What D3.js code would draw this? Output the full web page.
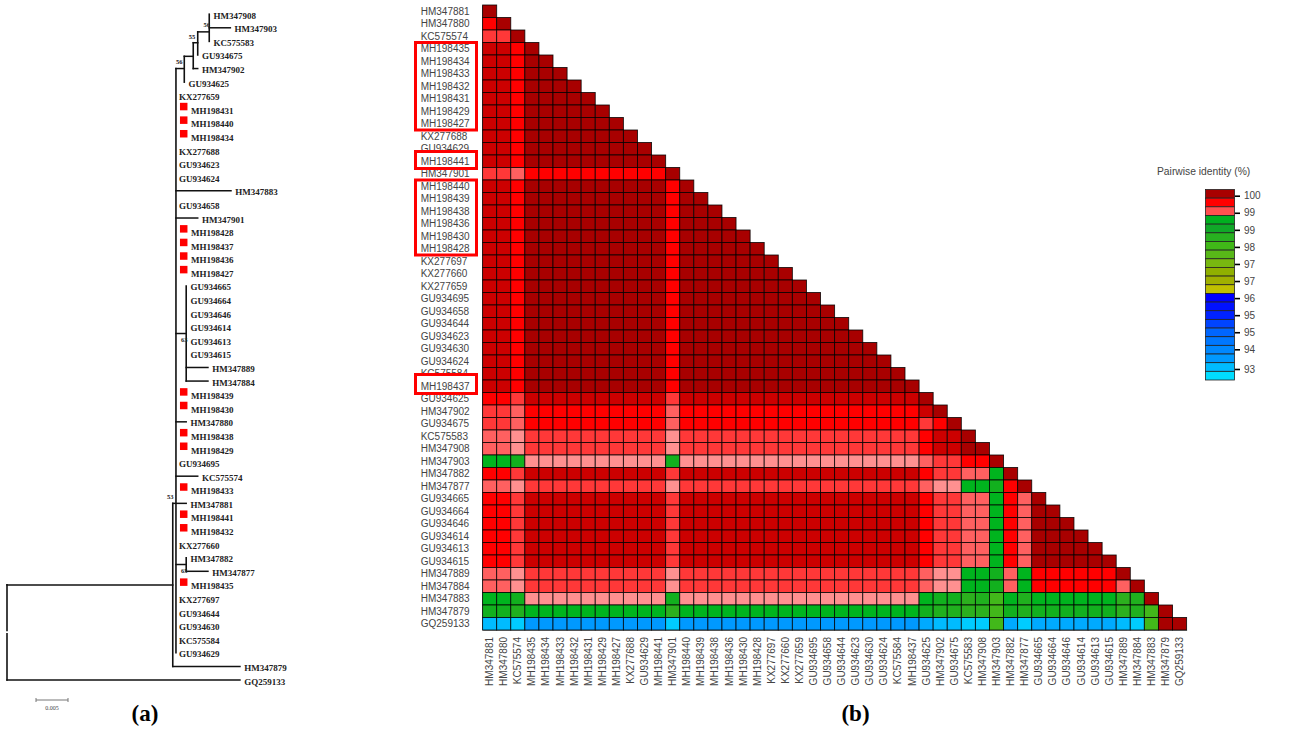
<!DOCTYPE html>
<html>
<head>
<meta charset="utf-8">
<script src="https://cdnjs.cloudflare.com/ajax/libs/d3/7.8.5/d3.min.js"></script>
<style>
html,body{margin:0;padding:0;background:#fff;overflow:hidden}
svg{display:block}
</style>
</head>
<body>
<svg id="chart" width="1309" height="732"></svg>
<script>
// ---------- panel (b) data ----------
const taxa = ["HM347881","HM347880","KC575574","MH198435","MH198434","MH198433","MH198432","MH198431","MH198429","MH198427","KX277688","GU934629","MH198441","HM347901","MH198440","MH198439","MH198438","MH198436","MH198430","MH198428","KX277697","KX277660","KX277659","GU934695","GU934658","GU934644","GU934623","GU934630","GU934624","KC575584","MH198437","GU934625","HM347902","GU934675","KC575583","HM347908","HM347903","HM347882","HM347877","GU934665","GU934664","GU934646","GU934614","GU934613","GU934615","HM347889","HM347884","HM347883","HM347879","GQ259133"];
const levelCodes = ["A","B","C","D","E","F","G","H","I","J","K","L","M","N","O"];
const levelIdentity = [100,99.8,99.6,99.4,99.2,99,98.8,98.6,98.4,98.2,97.9,93.6,93.4,93.2,93];
const levelColors = ["#a80000","#cc0000","#ff0000","#ff3838","#ff6060","#ff9090","#00b41e","#12b01e","#20b01e","#2cb01e","#42b81a","#0099ff","#00aaff","#00bbff","#00ccff"];
const identityRows = [
"A",
"CA",
"DDA",
"BBCA",
"BBCAA",
"BBCAAA",
"BBCAAAA",
"BBCAAAAA",
"BBCAAAAAA",
"BBCAAAAAAA",
"BBCAAAAAAAA",
"BBCAAAAAAAAA",
"BBCAAAAAAAAAA",
"DDECCCCCCCCCCA",
"BBCAAAAAAAAAACA",
"BBCAAAAAAAAAACAA",
"BBCAAAAAAAAAACAAA",
"BBCAAAAAAAAAACAAAA",
"BBCAAAAAAAAAACAAAAA",
"BBCAAAAAAAAAACAAAAAA",
"BBCAAAAAAAAAACAAAAAAA",
"BBCAAAAAAAAAACAAAAAAAA",
"BBCAAAAAAAAAACAAAAAAAAA",
"BBCAAAAAAAAAACAAAAAAAAAA",
"BBCAAAAAAAAAACAAAAAAAAAAA",
"BBCAAAAAAAAAACAAAAAAAAAAAA",
"BBCAAAAAAAAAACAAAAAAAAAAAAA",
"BBCAAAAAAAAAACAAAAAAAAAAAAAA",
"BBCAAAAAAAAAACAAAAAAAAAAAAAAA",
"BBCAAAAAAAAAACAAAAAAAAAAAAAAAA",
"BBCAAAAAAAAAACAAAAAAAAAAAAAAAAA",
"CCDBBBBBBBBBBDBBBBBBBBBBBBBBBBBA",
"DDECCCCCCCCCCECCCCCCCCCCCCCCCCCBA",
"DDECCCCCCCCCCECCCCCCCCCCCCCCCCCDCA",
"EEFDDDDDDDDDDFDDDDDDDDDDDDDDDDDCBBA",
"EEFDDDDDDDDDDFDDDDDDDDDDDDDDDDDCBBAA",
"GGHFFFFFFFFFFHFFFFFFFFFFFFFFFFFEDDCCA",
"CCDBBBBBBBBBBDBBBBBBBBBBBBBBBBBCDDEEGA",
"EEFDDDDDDDDDDFDDDDDDDDDDDDDDDDDEFFGGHCA",
"CCDBBBBBBBBBBDBBBBBBBBBBBBBBBBBCDDEEGCEA",
"CCDBBBBBBBBBBDBBBBBBBBBBBBBBBBBCDDEEGCEAA",
"CCDBBBBBBBBBBDBBBBBBBBBBBBBBBBBCDDEEGCEAAA",
"CCDBBBBBBBBBBDBBBBBBBBBBBBBBBBBCDDEEGCEAAAA",
"CCDBBBBBBBBBBDBBBBBBBBBBBBBBBBBCDDEEGCEAAAAA",
"CCDBBBBBBBBBBDBBBBBBBBBBBBBBBBBCDDEEGCEAAAAAA",
"EEFDDDDDDDDDDFDDDDDDDDDDDDDDDDDEFFGGHEGCCCCCCA",
"EEFDDDDDDDDDDFDDDDDDDDDDDDDDDDDEFFGGHEGCCCCCCEA",
"GGHFFFFFFFFFFHFFFFFFFFFFFFFFFFFGHHJIKGIGGGGGGJIA",
"HHIGGGGGGGGGGJGGGGGGGGGGGGGGGGGHIIJJKHIHHHHHHJIKA",
"NNOLLLLLLLLLLOLLLLLLLLLLLLLLLLLMNNOOKMOMMMMMMNOKAA"
];
const highlightedRows = [[3,9],[12,12],[14,19],[30,30]];
const legendColors = ["#a80000","#ff0000","#ff5050","#00b020","#10a828","#28b020","#40b818","#58b818","#78b810","#90b000","#a0b000","#c0c000","#0000ff","#0011ff","#0022ff","#0044ff","#0066ff","#0077ff","#0088ff","#0099ff","#00bbff","#00ddff"];
const legendTicks = [100,99.35,98.7,98.05,97.4,96.75,96.1,95.45,94.8,94.15,93.4];

// ---------- panel (a) data ----------
const tipNames = ["HM347908","HM347903","KC575583","GU934675","HM347902","GU934625","KX277659","MH198431","MH198440","MH198434","KX277688","GU934623","GU934624","HM347883","GU934658","HM347901","MH198428","MH198437","MH198436","MH198427","GU934665","GU934664","GU934646","GU934614","GU934613","GU934615","HM347889","HM347884","MH198439","MH198430","HM347880","MH198438","MH198429","GU934695","KC575574","MH198433","HM347881","MH198441","MH198432","KX277660","HM347882","HM347877","MH198435","KX277697","GU934644","GU934630","KC575584","GU934629","HM347879","GQ259133"];
const tipDistance = [.0316,.0349,.0316,.0298,.0298,.0277,.0264,.0264,.0264,.0264,.0264,.0264,.0264,.0350,.0264,.0298,.0264,.0264,.0264,.0264,.0280,.0280,.0280,.0280,.0280,.0280,.0314,.0314,.0264,.0264,.0280,.0264,.0264,.0264,.0298,.0264,.0280,.0264,.0264,.0264,.0280,.0314,.0264,.0264,.0264,.0264,.0264,.0264,.0364,.0364];
const markedTips = ["MH198431","MH198440","MH198434","MH198428","MH198437","MH198436","MH198427","MH198439","MH198430","MH198438","MH198429","MH198433","MH198441","MH198432","MH198435"];
// [from distance, to distance, row]
const horizontalBranches = [[0,.0259,42],[0,.0364,49],[.0259,.0364,48],[.0259,.0280,36],[.0264,.0277,4],[.0277,.0291,3.1],[.0291,.0298,4],[.0291,.0298,2.1],[.0298,.0316,1.3],[.0316,.0349,1],[.0264,.0350,13],[.0264,.0298,15],[.0264,.0280,23.5],[.0280,.0314,26],[.0280,.0314,27],[.0264,.0280,30],[.0264,.0298,34],[.0264,.0280,40.5],[.0280,.0314,41]];
// [distance, from row, to row]
const verticalBranches = [[0,42,45.35],[0,45.6,49],[.0259,36,48],[.0264,4,47],[.0277,3.1,5],[.0291,2.1,4],[.0298,1.3,3],[.0316,0,2],[.0280,20,27],[.0280,40,41]];
// [support, distance, row]
const supportLabels = [["56",.0307,.95],["55",.0284,1.8],["56",.0264,3.65],["63",.0272,24.1],["53",.0250,35.7],["65",.0272,41.1]];
const scaleBarLength = 0.005;

// ---------- drawing ----------
const svg = d3.select("#chart");
const sans = "'Liberation Sans',Arial,sans-serif";
const serif = "'Liberation Serif','Times New Roman',serif";

// panel (a)
const treeX = d3.scaleLinear().domain([0,0.005]).range([7,39]);
const treeY = d3.scaleLinear().domain([0,49]).range([14.2,680]);
const tree = svg.append("g").attr("stroke-linecap","square");
tree.selectAll("line.h").data(horizontalBranches).join("line").attr("class","h")
  .attr("x1",d=>treeX(d[0])).attr("x2",d=>treeX(d[1]))
  .attr("y1",d=>treeY(d[2])).attr("y2",d=>treeY(d[2]))
  .attr("stroke","#111").attr("stroke-width",1.5);
tree.selectAll("line.v").data(verticalBranches).join("line").attr("class","v")
  .attr("x1",d=>treeX(d[0])).attr("x2",d=>treeX(d[0]))
  .attr("y1",d=>treeY(d[1])).attr("y2",d=>treeY(d[2]))
  .attr("stroke","#111").attr("stroke-width",1.6);
const tips = tree.selectAll("g.tip").data(tipNames).join("g").attr("class","tip")
  .attr("transform",(d,i)=>`translate(${treeX(tipDistance[i])},${treeY(i)})`);
tips.filter(d=>markedTips.includes(d)).append("rect")
  .attr("x",4).attr("y",-6.5).attr("width",7.5).attr("height",7.5).attr("fill","#ff0000");
tips.append("text")
  .attr("x",(d,i)=>markedTips.includes(d)?15:(tipDistance[tipNames.indexOf(d)]<=.0264?3:4.2))
  .attr("y",4.5)
  .attr("font-family",serif).attr("font-weight","bold").attr("font-size",9).attr("fill","#222")
  .text(d=>d);
tree.selectAll("text.support").data(supportLabels).join("text").attr("class","support")
  .attr("x",d=>treeX(d[1])).attr("y",d=>treeY(d[2]))
  .attr("font-family",serif).attr("font-weight","bold").attr("font-size",6.5).attr("fill","#222")
  .attr("text-anchor","start").text(d=>d[0]);
// scale bar
const barLeft = 36;
const barG = svg.append("g").attr("stroke","#777");
const barX = d3.scaleLinear().domain([0,scaleBarLength]).range([barLeft,barLeft+treeX(scaleBarLength)-treeX(0)]);
barG.append("line").attr("x1",barX(0)).attr("x2",barX(scaleBarLength)).attr("y1",700).attr("y2",700);
barG.selectAll("line.e").data([0,scaleBarLength]).join("line").attr("class","e")
  .attr("x1",d=>barX(d)).attr("x2",d=>barX(d)).attr("y1",698).attr("y2",702);
svg.append("text").attr("x",barX(scaleBarLength/2)).attr("y",710).attr("text-anchor","middle")
  .attr("font-family",serif).attr("font-size",6).attr("fill","#444").text(d3.format(".3f")(scaleBarLength));

svg.append("text").attr("x",145).attr("y",721).attr("text-anchor","middle")
  .attr("font-family",serif).attr("font-weight","bold").attr("font-size",23).attr("fill","#000").text("(a)");
svg.append("text").attr("x",855.5).attr("y",721).attr("text-anchor","middle")
  .attr("font-family",serif).attr("font-weight","bold").attr("font-size",23).attr("fill","#000").text("(b)");

// panel (b)
const x = d3.scaleBand().domain(taxa).range([482.6,1186.6]);
const y = d3.scaleBand().domain(taxa).range([5,630]);
const colour = d3.scaleOrdinal(levelIdentity,levelColors);
const identity = code => levelIdentity[levelCodes.indexOf(code)];
const cells = identityRows.flatMap((row,r)=>row.split("").map((code,c)=>({r:taxa[r],c:taxa[c],v:identity(code)})));
const styleAxisText = sel => sel.attr("font-family",sans).attr("font-size",10).attr("fill","#444");

const leftAxis = svg.append("g").attr("transform","translate(482,0)")
  .call(d3.axisLeft(y).tickSize(0).tickSizeOuter(0));
leftAxis.select(".domain").attr("stroke","#888");
leftAxis.selectAll("text").attr("x",-61.3).attr("dy","0.35em").attr("text-anchor","start").call(styleAxisText);

const bottomAxis = svg.append("g").attr("transform","translate(0,630)")
  .call(d3.axisBottom(x).tickSize(0).tickSizeOuter(0));
bottomAxis.select(".domain").attr("stroke","#888");
bottomAxis.selectAll("text")
  .attr("transform","rotate(-90)").attr("x",-7).attr("y",0).attr("dy","0.35em").attr("text-anchor","end").call(styleAxisText);

// highlight boxes hide the neighbouring labels, then carry their own
const boxes = svg.append("g");
highlightedRows.forEach(([a,b])=>{
  const single = a===b;
  const top = y(taxa[a])-(single?(a===30?5.5:3.5):0);
  const bottom = y(taxa[b])+y.bandwidth()+(single?1:0);
  boxes.append("rect").attr("x",415.5).attr("y",top).attr("width",61).attr("height",bottom-top)
    .attr("fill","#fff").attr("stroke","#ff0000").attr("stroke-width",3);
  boxes.selectAll(null).data(taxa.slice(a,b+1)).join("text")
    .attr("x",420.7).attr("y",d=>y(d)+y.bandwidth()/2).attr("dy","0.35em")
    .call(styleAxisText).text(d=>d);
});

svg.append("g").selectAll("rect").data(cells).join("rect")
  .attr("x",d=>x(d.c)).attr("y",d=>y(d.r))
  .attr("width",x.bandwidth()).attr("height",y.bandwidth())
  .attr("fill",d=>colour(d.v))
  .attr("stroke","#000").attr("stroke-width",0.9).attr("stroke-opacity",0.85);

// legend
svg.append("text").attr("x",1157).attr("y",175).attr("font-family",sans).attr("font-size",10.3).attr("fill","#444")
  .text("Pairwise identity (%)");
const legendY = d3.scaleBand().domain(legendColors).range([189.5,380]);
svg.append("g").selectAll("rect").data(legendColors).join("rect")
  .attr("x",1205.5).attr("width",29).attr("y",d=>legendY(d)).attr("height",legendY.bandwidth())
  .attr("fill",d=>d).attr("stroke","#222").attr("stroke-width",0.8);
const legendScale = d3.scaleLinear().domain([100,93.4]).range([195.7,369]);
const legendAxis = svg.append("g").attr("transform","translate(1235,0)")
  .call(d3.axisRight(legendScale).tickValues(legendTicks).tickFormat(d3.format(".0f")).tickSize(5).tickPadding(4));
legendAxis.select(".domain").remove();
legendAxis.selectAll("line").attr("stroke","#000").attr("stroke-width",1.6);
legendAxis.selectAll("text").attr("font-family",sans).attr("font-size",10).attr("fill","#444");
</script>
</body>
</html>
